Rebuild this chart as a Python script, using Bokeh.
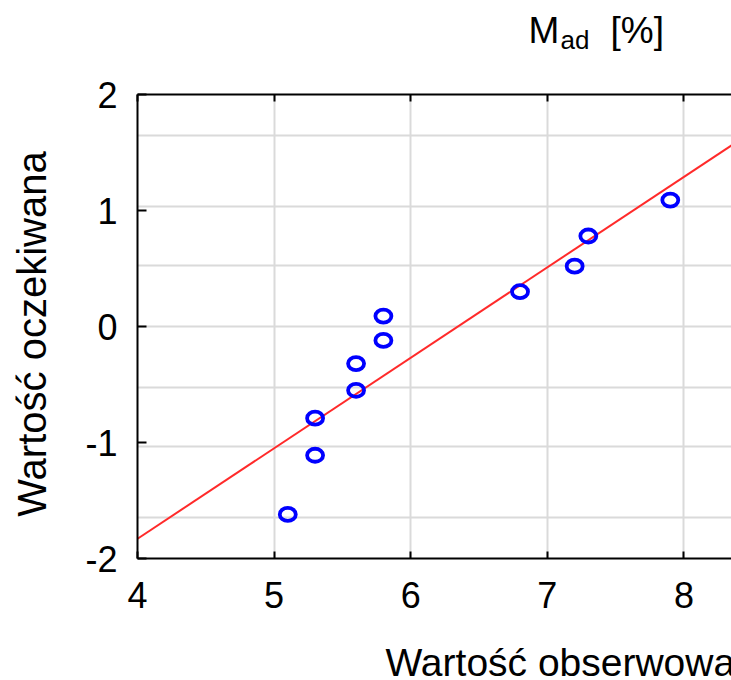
import math
from statistics import NormalDist

from bokeh.plotting import figure
from bokeh.layouts import column, row
from bokeh.models import Range1d, LinearAxis, FixedTicker, Label, Slope, ColumnDataSource
from bokeh.embed import file_html
from bokeh.resources import INLINE

# ---- data ----
observed = [5.1, 5.3, 5.3, 5.6, 5.6, 5.8, 5.8, 6.8, 7.2, 7.3, 7.9]
expected = [-1.62, -1.11, -0.79, -0.55, -0.32, -0.12, 0.09, 0.30, 0.52, 0.78, 1.09]
x_ticks = [4, 5, 6, 7, 8]
y_ticks = [-2, -1, 0, 1, 2]
grid_probs = [0.05, 0.15, 0.30, 0.50, 0.70, 0.85, 0.95]
fit_slope = 0.78
fit_intercept = -4.95

title_main = "M"
title_sub = "ad"
title_unit = "[%]"
x_label = "Wartość obserwowana"
y_label = "Wartość oczekiwana"

FONT = "Liberation Sans"
TOTAL_W = 731
TITLE_H = 60
YLAB_W = 70
XLAB_H = 45
MAIN_H = 680 - TITLE_H - XLAB_H
MAIN_W = TOTAL_W - YLAB_W


def text_fig(w, h):
    f = figure(width=w, height=h, output_backend="svg", toolbar_location=None,
               x_range=Range1d(0, 1), y_range=Range1d(0, 1),
               x_axis_location=None, y_axis_location=None, min_border=0)
    f.title.visible = False
    f.outline_line_color = None
    f.grid.visible = False
    f.background_fill_color = "white"
    f.border_fill_color = "white"
    return f


# ---- main plot ----
src = ColumnDataSource(data=dict(x=observed, y=expected))

p = figure(width=MAIN_W, height=MAIN_H, output_backend="svg", toolbar_location=None,
           x_range=Range1d(4, 8.348), y_range=Range1d(-2, 2),
           min_border_left=67, min_border_right=0,
           min_border_top=34, min_border_bottom=77)
p.title.visible = False
p.outline_line_color = None
p.background_fill_color = "white"
p.border_fill_color = "white"

for ax in (p.xaxis[0], p.yaxis[0]):
    ax.axis_line_color = "black"
    ax.axis_line_width = 2
    ax.major_tick_line_color = "black"
    ax.major_tick_line_width = 2
    ax.major_tick_out = 0
    ax.minor_tick_line_color = None
    ax.major_label_text_font = FONT
    ax.major_label_text_font_size = "36px"
    ax.major_label_text_color = "black"

p.xaxis[0].ticker = FixedTicker(ticks=x_ticks)
p.xaxis[0].major_tick_in = 7
p.xaxis[0].major_label_standoff = 23
p.yaxis[0].ticker = FixedTicker(ticks=y_ticks)
p.yaxis[0].major_tick_in = 9
p.yaxis[0].major_label_standoff = 20
p.yaxis[0].major_label_overrides = {t: str(t) for t in y_ticks}

top = LinearAxis(ticker=FixedTicker(ticks=x_ticks), axis_line_color="black", axis_line_width=2,
                 major_tick_line_color="black", major_tick_line_width=2,
                 major_tick_in=7, major_tick_out=0, minor_tick_line_color=None,
                 major_label_text_font_size="1px", major_label_standoff=0,
                 major_label_overrides={t: "" for t in x_ticks})
p.add_layout(top, "above")

p.xgrid.ticker = FixedTicker(ticks=x_ticks)
p.ygrid.ticker = FixedTicker(ticks=[NormalDist().inv_cdf(q) for q in grid_probs])
for g in (p.xgrid[0], p.ygrid[0]):
    g.grid_line_color = "#DADADA"
    g.grid_line_width = 2

p.add_layout(Slope(gradient=fit_slope, y_intercept=fit_intercept,
                   line_color="#FF2A2A", line_width=2, level="underlay"))

p.ellipse(x="x", y="y", width=16, height=13, width_units="screen", height_units="screen",
          fill_color=None, line_color="#0000FF", line_width=3.8, source=src)

# ---- title strip (anchors are text centres) ----
t = text_fig(TOTAL_W, TITLE_H)
t.add_layout(Label(x=528, y=30, x_units="screen", y_units="screen", text=title_main,
                   text_font=FONT, text_font_size="37px", text_color="black",
                   text_align="left", text_baseline="middle"))
t.add_layout(Label(x=560, y=21, x_units="screen", y_units="screen", text=title_sub,
                   text_font=FONT, text_font_size="26px", text_color="black",
                   text_align="left", text_baseline="middle"))
t.add_layout(Label(x=610, y=30, x_units="screen", y_units="screen", text=title_unit,
                   text_font=FONT, text_font_size="37px", text_color="black",
                   text_align="left", text_baseline="middle"))

# ---- y label strip (its frame is aligned with the main frame) ----
yl = text_fig(YLAB_W, MAIN_H)
yl.add_layout(Label(x=31, y=224.5, x_units="screen", y_units="screen", text=y_label,
                    angle=math.pi / 2, text_font=FONT, text_font_size="40px",
                    text_color="black", text_align="center", text_baseline="middle"))

# ---- x label strip ----
xl = text_fig(TOTAL_W, XLAB_H)
xl.add_layout(Label(x=385, y=18, x_units="screen", y_units="screen", text=x_label,
                    text_font=FONT, text_font_size="39px", text_color="black",
                    text_align="left", text_baseline="middle"))

layout = column(t, row(yl, p, spacing=0), xl, spacing=0)

open("out.html", "w").write(file_html(layout, INLINE))
